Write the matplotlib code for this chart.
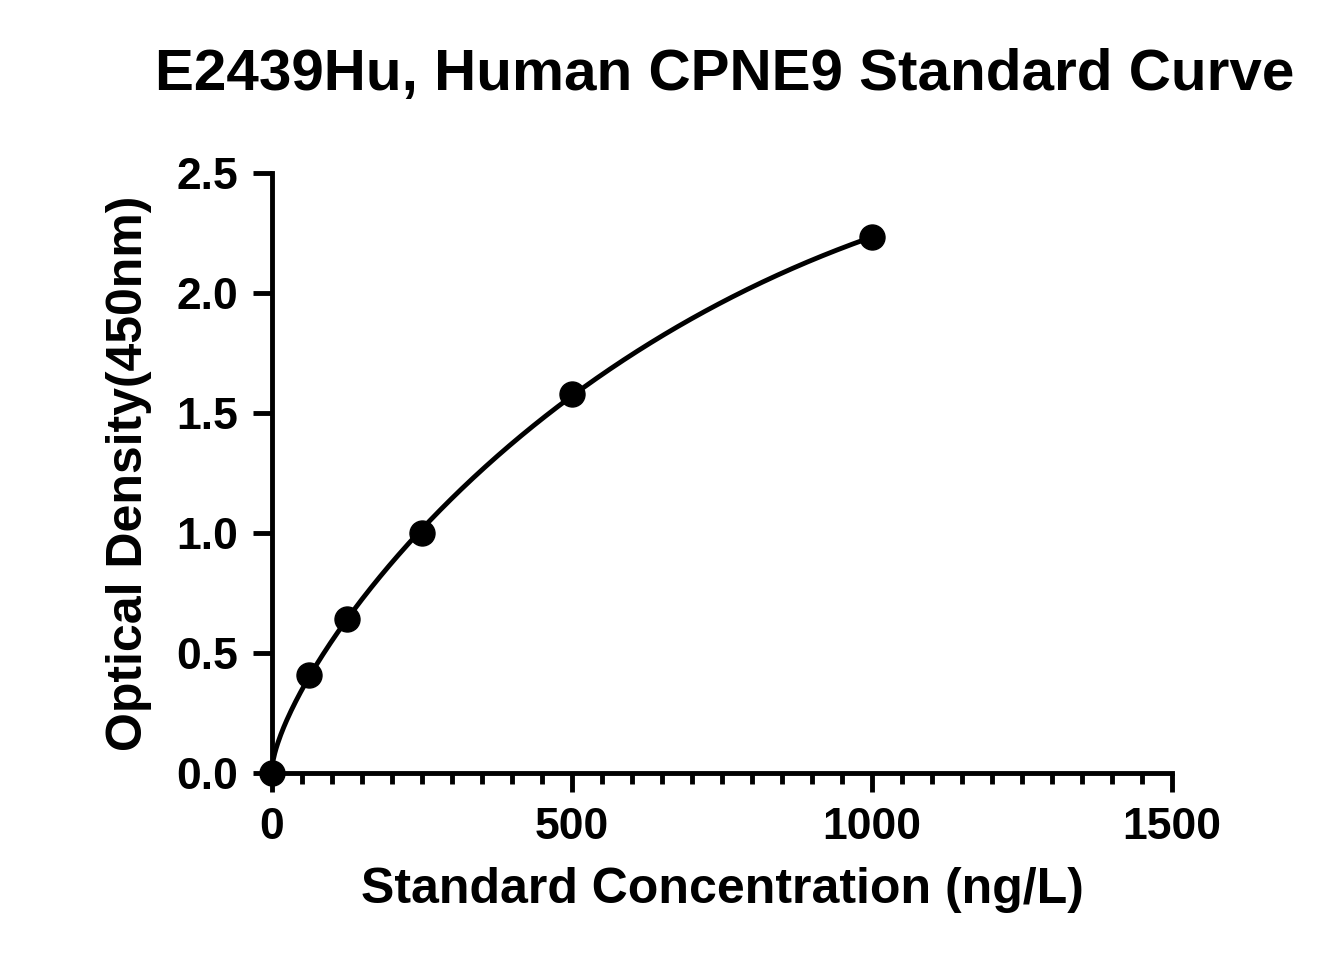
import numpy as np
import matplotlib
matplotlib.use("Agg")
import matplotlib.pyplot as plt
from matplotlib.ticker import MultipleLocator

conc = [0, 62.5, 125, 250, 500, 1000]
od = [0.0, 0.41, 0.64, 1.0, 1.58, 2.23]

plt.rcParams['font.family'] = ['Liberation Sans', 'DejaVu Sans']
plt.rcParams['font.weight'] = 'bold'

fig = plt.figure(figsize=(13.32, 9.75), dpi=100)
ax = fig.add_axes([0.204, 0.207, 0.676, 0.616])

x = np.array(conc, float); y = np.array(od, float)
s = np.sqrt(x)
A = np.column_stack([s, s**2, s**3])
coef, *_ = np.linalg.lstsq(A, y, rcond=None)
xs = np.linspace(0, 1000, 400)
ss = np.sqrt(xs)
ax.plot(xs, coef[0]*ss + coef[1]*ss**2 + coef[2]*ss**3, color='black', lw=3.5, zorder=2)
ax.plot(conc, od, 'o', color='black', ms=18, zorder=3, clip_on=False)

ax.set_xlim(0, 1500); ax.set_ylim(0, 2.5)
ax.xaxis.set_major_locator(MultipleLocator(500))
ax.xaxis.set_minor_locator(MultipleLocator(50))
ax.yaxis.set_major_locator(MultipleLocator(0.5))
ax.yaxis.set_major_formatter(matplotlib.ticker.FormatStrFormatter('%.1f'))
for sp in ['top', 'right']:
    ax.spines[sp].set_visible(False)
for sp in ['left', 'bottom']:
    ax.spines[sp].set_linewidth(3.5)
ax.tick_params(which='major', length=14, width=3.5, labelsize=32, pad=10)
ax.tick_params(which='minor', length=8, width=3.5)
for t in ax.get_xticklabels() + ax.get_yticklabels():
    t.set_fontweight('bold')
ax.set_xlabel('Standard Concentration (ng/L)', fontsize=36, fontweight='bold', labelpad=14)
ax.set_ylabel('Optical Density(450nm)', fontsize=36, fontweight='bold', labelpad=18)
fig.text(0.544, 0.923, 'E2439Hu, Human CPNE9 Standard Curve', ha='center', va='center',
         fontsize=42, fontweight='bold')
fig.savefig('out.png', dpi=100)
